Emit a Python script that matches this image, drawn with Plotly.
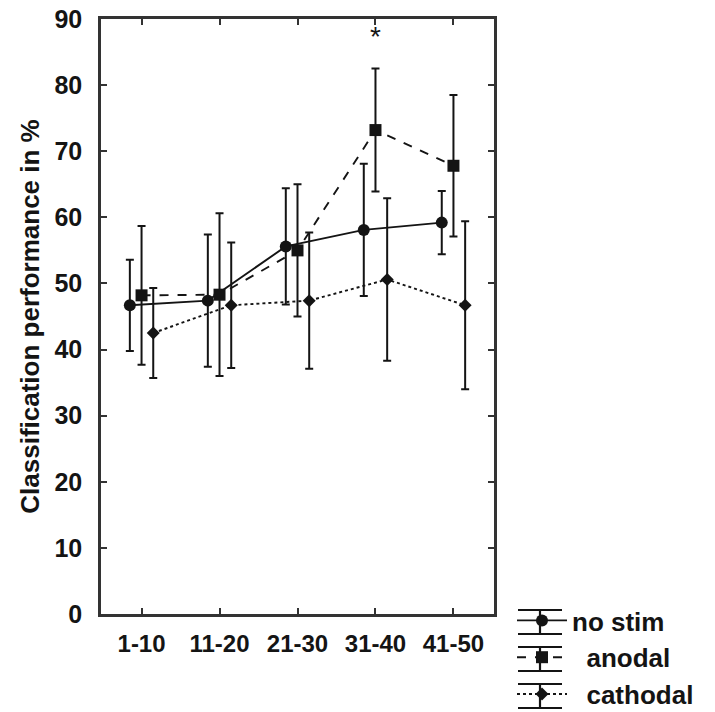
import plotly.graph_objects as go

categories = ["1-10", "11-20", "21-30", "31-40", "41-50"]
nostim_mean = [46.7, 47.4, 55.6, 58.1, 59.2]
nostim_err = [6.9, 10.0, 8.8, 10.0, 4.8]
anodal_mean = [48.2, 48.3, 55.0, 73.2, 67.8]
anodal_err = [10.5, 12.3, 10.0, 9.3, 10.7]
cathodal_mean = [42.5, 46.7, 47.4, 50.6, 46.7]
cathodal_err = [6.8, 9.5, 10.3, 12.3, 12.7]
y_ticks = [0, 10, 20, 30, 40, 50, 60, 70, 80, 90]
star_category = "31-40"
star_value = 87.3

base = list(range(1, len(categories) + 1))
FONT = "Liberation Sans, Arial, sans-serif"
INK = "#141414"
PAGE = 8  # default body margin of the page
W, H = 715 - PAGE, 712 - PAGE
ML, MR, MT, MB = 101 - PAGE, 221, 19 - PAGE, 98
PW, PH = W - ML - MR, H - MT - MB

def shifted(off):
    return [b + off for b in base]

def px_x(p):
    return (p - PAGE - ML) / PW

def px_y(p):
    return (H - MB - (p - PAGE)) / PH

fig = go.Figure()
series = [
    ("no stim", "no stim", nostim_mean, nostim_err, -0.15, "solid", "circle", 12),
    ("anodal", "&nbsp;&nbsp;anodal", anodal_mean, anodal_err, 0.0, "dash", "square", 12),
    ("cathodal", "&nbsp;&nbsp;cathodal", cathodal_mean, cathodal_err, 0.15, "dot", "diamond", 10),
]
for key, label, m, e, off, dash, sym, sz in series:
    fig.add_trace(go.Scatter(
        x=shifted(off), y=m, name=label, mode="lines+markers",
        line=dict(color=INK, width=1.9, dash=dash),
        marker=dict(symbol=sym, size=sz, color=INK),
        error_y=dict(type="data", array=e, visible=True, color=INK,
                     thickness=2, width=4),
    ))

fig.add_annotation(x=base[categories.index(star_category)], y=star_value,
                   text="*", showarrow=False, xref="x", yref="y",
                   font=dict(family=FONT, size=28, color=INK))

# error-bar glyphs in the legend (decoration at the legend rows, screen px)
legend_rows = [622, 659, 696]
glyph_x0, glyph_x1, glyph_cx = 518, 562, 540
for cy in legend_rows:
    for yy in (cy - 12, cy + 12):
        fig.add_shape(type="line", xref="paper", yref="paper",
                      x0=px_x(glyph_x0), x1=px_x(glyph_x1), y0=px_y(yy), y1=px_y(yy),
                      line=dict(color=INK, width=2.2))
    fig.add_shape(type="line", xref="paper", yref="paper",
                  x0=px_x(glyph_cx), x1=px_x(glyph_cx), y0=px_y(cy - 12), y1=px_y(cy + 12),
                  line=dict(color=INK, width=2.2))

fig.update_layout(
    width=W, height=H,
    margin=dict(l=ML, r=MR, t=MT, b=MB, autoexpand=False),
    paper_bgcolor="white", plot_bgcolor="white",
    font=dict(family=FONT, color=INK),
    showlegend=True,
    legend=dict(x=px_x(512), y=px_y(597), xanchor="left", yanchor="top",
                font=dict(family=FONT, size=26, color=INK, weight="bold"),
                itemwidth=50, tracegroupgap=0, bgcolor="rgba(0,0,0,0)"),
)
fig.update_xaxes(
    range=[0.48, 5.52], tickvals=base, ticktext=categories, automargin=False,
    showgrid=False, zeroline=False, showline=True, linecolor="#333",
    linewidth=2.5, mirror="ticks", ticks="inside", ticklen=6, tickwidth=2,
    tickcolor="#333", ticklabelstandoff=6, ticklabeloverflow="allow",
    tickfont=dict(family=FONT, size=24, color=INK, weight="bold"),
)
fig.update_yaxes(
    range=[0, 90], tickvals=y_ticks, ticktext=[str(v) for v in y_ticks],
    automargin=False,
    showgrid=False, zeroline=False, showline=True, linecolor="#333",
    linewidth=2.5, mirror="ticks", ticks="inside", ticklen=6, tickwidth=2,
    tickcolor="#333", ticklabelstandoff=11, ticklabeloverflow="allow",
    tickfont=dict(family=FONT, size=25, color=INK, weight="bold"),
    title=dict(text="Classification performance in %", standoff=8,
               font=dict(family=FONT, size=26, color=INK, weight="bold")),
)

fig.write_html("out.html")
